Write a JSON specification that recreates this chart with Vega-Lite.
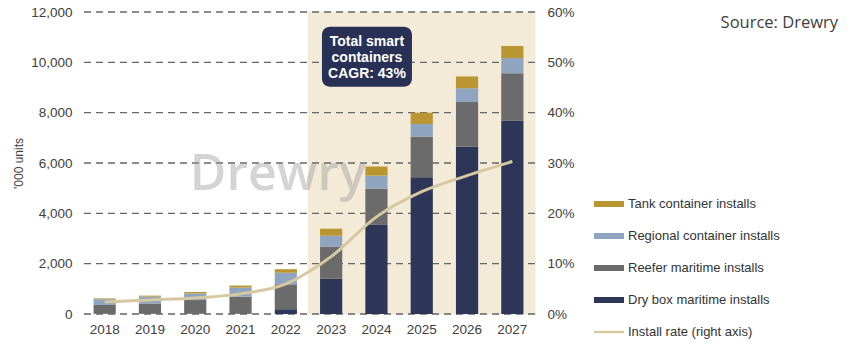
{
  "$schema": "https://vega.github.io/schema/vega-lite/v6.json",
  "autosize": "none",
  "width": 453,
  "height": 302,
  "padding": {"left": 82, "top": 12, "right": 317, "bottom": 47},
  "background": "white",
  "title": {"text": "Source: Drewry", "anchor": "end", "frame": "bounds", "orient": "top", "font": "Open Sans", "fontSize": 16.5, "fontWeight": "normal", "color": "#404040", "offset": 0, "dx": 58, "dy": 26},
  "config": {
    "view": {"stroke": null},
    "axis": {"labelFont": "Liberation Sans", "labelColor": "#404040", "labelFontSize": 13.5, "domain": false, "ticks": false, "grid": false},
    "axisBottom": {"labelAlign": "center", "labelAngle": 0, "labelPadding": 8},
    "legend": {"labelFont": "Liberation Sans", "labelFontSize": 13, "labelColor": "#333333"}
  },
  "datasets": {
    "units": [
      {"year": "2018", "series": "Dry box maritime installs", "value": 10},
      {"year": "2018", "series": "Reefer maritime installs", "value": 350},
      {"year": "2018", "series": "Regional container installs", "value": 230},
      {"year": "2018", "series": "Tank container installs", "value": 30},
      {"year": "2019", "series": "Dry box maritime installs", "value": 10},
      {"year": "2019", "series": "Reefer maritime installs", "value": 410},
      {"year": "2019", "series": "Regional container installs", "value": 270},
      {"year": "2019", "series": "Tank container installs", "value": 40},
      {"year": "2020", "series": "Dry box maritime installs", "value": 15},
      {"year": "2020", "series": "Reefer maritime installs", "value": 540},
      {"year": "2020", "series": "Regional container installs", "value": 260},
      {"year": "2020", "series": "Tank container installs", "value": 60},
      {"year": "2021", "series": "Dry box maritime installs", "value": 20},
      {"year": "2021", "series": "Reefer maritime installs", "value": 670},
      {"year": "2021", "series": "Regional container installs", "value": 360},
      {"year": "2021", "series": "Tank container installs", "value": 80},
      {"year": "2022", "series": "Dry box maritime installs", "value": 190},
      {"year": "2022", "series": "Reefer maritime installs", "value": 990},
      {"year": "2022", "series": "Regional container installs", "value": 460},
      {"year": "2022", "series": "Tank container installs", "value": 140},
      {"year": "2023", "series": "Dry box maritime installs", "value": 1400},
      {"year": "2023", "series": "Reefer maritime installs", "value": 1280},
      {"year": "2023", "series": "Regional container installs", "value": 430},
      {"year": "2023", "series": "Tank container installs", "value": 280},
      {"year": "2024", "series": "Dry box maritime installs", "value": 3540},
      {"year": "2024", "series": "Reefer maritime installs", "value": 1440},
      {"year": "2024", "series": "Regional container installs", "value": 520},
      {"year": "2024", "series": "Tank container installs", "value": 360},
      {"year": "2025", "series": "Dry box maritime installs", "value": 5430},
      {"year": "2025", "series": "Reefer maritime installs", "value": 1620},
      {"year": "2025", "series": "Regional container installs", "value": 500},
      {"year": "2025", "series": "Tank container installs", "value": 450},
      {"year": "2026", "series": "Dry box maritime installs", "value": 6650},
      {"year": "2026", "series": "Reefer maritime installs", "value": 1770},
      {"year": "2026", "series": "Regional container installs", "value": 550},
      {"year": "2026", "series": "Tank container installs", "value": 470},
      {"year": "2027", "series": "Dry box maritime installs", "value": 7690},
      {"year": "2027", "series": "Reefer maritime installs", "value": 1880},
      {"year": "2027", "series": "Regional container installs", "value": 600},
      {"year": "2027", "series": "Tank container installs", "value": 480}
    ],
    "rate": [
      {"year": "2018", "rate": 0.024},
      {"year": "2019", "rate": 0.028},
      {"year": "2020", "rate": 0.032},
      {"year": "2021", "rate": 0.040},
      {"year": "2022", "rate": 0.060},
      {"year": "2023", "rate": 0.114},
      {"year": "2024", "rate": 0.193},
      {"year": "2025", "rate": 0.243},
      {"year": "2026", "rate": 0.275},
      {"year": "2027", "rate": 0.303}
    ],
    "grid": [{"v": 0}, {"v": 2000}, {"v": 4000}, {"v": 6000}, {"v": 8000}, {"v": 10000}, {"v": 12000}]
  },
  "layer": [
    {
      "layer": [
        {
          "data": {"name": "rate"},
          "transform": [{"filter": "toNumber(datum.year) >= 2023"}],
          "mark": {"type": "bar", "color": "#f3ead8", "stroke": "#f3ead8", "strokeWidth": 1, "width": {"band": 1}},
          "encoding": {
            "x": {"field": "year", "type": "ordinal", "title": null, "axis": {"labelAlign": "center", "labelAngle": 0, "bandPosition": 0.5}},
            "y": {"datum": 12000, "type": "quantitative", "title": "'000 units",
                  "axis": {"values": [0, 2000, 4000, 6000, 8000, 10000, 12000], "format": ",.0f", "labelPadding": 10,
                           "titleFont": "Liberation Sans", "titleFontSize": 12, "titleFontWeight": "normal", "titleColor": "#404040", "titlePadding": 5}}
          }
        },
        {
          "data": {"name": "grid"},
          "mark": {"type": "rule", "color": "#666666", "strokeWidth": 1.3, "strokeDash": [7, 5]},
          "encoding": {
            "y": {"field": "v", "type": "quantitative", "title": "'000 units",
                  "axis": {"values": [0, 2000, 4000, 6000, 8000, 10000, 12000], "format": ",.0f", "labelPadding": 10,
                           "titleFont": "Liberation Sans", "titleFontSize": 12, "titleFontWeight": "normal", "titleColor": "#404040", "titlePadding": 5}}
          }
        },
        {
          "data": {"values": [{}]},
          "mark": {"type": "text", "text": "Drewry", "font": "Open Sans", "fontWeight": 600, "fontSize": 50, "color": "#9a9a9a", "opacity": 0.42, "baseline": "alphabetic", "align": "center", "dx": -8},
          "encoding": {
            "x": {"datum": "2022", "type": "ordinal"},
            "y": {"datum": 4930, "type": "quantitative"}
          }
        },
        {
          "data": {"name": "units"},
          "mark": {"type": "bar", "width": {"band": 0.49}},
          "encoding": {
            "x": {"field": "year", "type": "ordinal", "title": null,
                  "scale": {"paddingInner": 0, "paddingOuter": 0},
                  "axis": {"labelAngle": 0, "labelAlign": "center", "labelPadding": 8, "bandPosition": 0.5}},
            "y": {"field": "value", "type": "quantitative", "stack": "zero",
                  "scale": {"domain": [0, 12000]},
                  "title": "'000 units",
                  "axis": {"values": [0, 2000, 4000, 6000, 8000, 10000, 12000], "format": ",.0f", "labelPadding": 10,
                           "titleFont": "Liberation Sans", "titleFontSize": 12, "titleFontWeight": "normal", "titleColor": "#404040", "titlePadding": 5}},
            "color": {"field": "series", "type": "nominal",
                      "scale": {"domain": ["Tank container installs", "Regional container installs", "Reefer maritime installs", "Dry box maritime installs", "Install rate (right axis)"],
                                "range": ["#b99631", "#8fa4bf", "#6b6b6b", "#2d3658", "#d6c8a0"]},
                      "legend": {"orient": "none", "legendX": 512, "legendY": 177, "title": null, "padding": 0,
                                 "symbolType": "M-1,-0.2H1V0.2H-1Z", "symbolSize": 900, "symbolStrokeWidth": 0,
                                 "rowPadding": 10, "labelOffset": 4,
                                 "encode": {"symbols": {"update": {
                                   "shape": {"signal": "datum.value === 'Install rate (right axis)' ? 'M-1,-0.08H1V0.08H-1Z' : 'M-1,-0.2H1V0.2H-1Z'"},
                                   "fill": {"scale": "color", "field": "value"},
                                   "strokeWidth": {"value": 0},
                                   "opacity": {"value": 1}}}}}},
            "order": {"field": "series", "sort": "ascending"}
          }
        },
        {
          "data": {"values": [{}]},
          "mark": {"type": "bar", "color": "#283056", "width": 90, "xOffset": -9.5, "cornerRadius": 8},
          "encoding": {
            "x": {"datum": "2024", "type": "ordinal"},
            "y": {"datum": 11410, "type": "quantitative"},
            "y2": {"datum": 9030}
          }
        },
        {
          "data": {"values": [{}]},
          "mark": {"type": "text", "text": ["Total smart", "containers", "CAGR: 43%"], "font": "Liberation Sans", "fontWeight": "bold", "fontSize": 14, "lineHeight": 16, "color": "white", "align": "center", "baseline": "middle", "dx": -9.5},
          "encoding": {
            "x": {"datum": "2024", "type": "ordinal"},
            "y": {"datum": 10820, "type": "quantitative"}
          }
        }
      ]
    },
    {
      "data": {"name": "rate"},
      "mark": {"type": "line", "color": "#d6c8a0", "strokeWidth": 3, "interpolate": "monotone"},
      "encoding": {
        "x": {"field": "year", "type": "ordinal", "title": null, "axis": {"labelAlign": "center", "labelAngle": 0, "bandPosition": 0.5}},
        "y": {"field": "rate", "type": "quantitative", "scale": {"domain": [0, 0.6]}, "title": null,
              "axis": {"orient": "right", "values": [0, 0.1, 0.2, 0.3, 0.4, 0.5, 0.6], "format": ".0%", "labelPadding": 12}},
        "color": {"datum": "Install rate (right axis)"}
      }
    }
  ],
  "resolve": {"scale": {"y": "independent"}}
}
